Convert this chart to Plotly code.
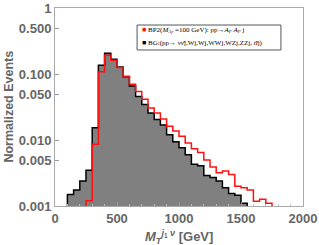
import plotly.graph_objects as go

# Bin lower edges (GeV), bin width 50
bg_edges = [100, 150, 200, 250, 300, 350, 400, 450, 500, 550, 600, 650, 700, 750,
            800, 850, 900, 950, 1000, 1050, 1100, 1150, 1200, 1250, 1300, 1350,
            1400, 1450, 1500]
bg_values = [0.0015, 0.00175, 0.0024, 0.0035, 0.0155, 0.138, 0.21, 0.17, 0.13,
             0.092, 0.067, 0.046, 0.035, 0.026, 0.0207, 0.0171, 0.0121, 0.0095,
             0.0077, 0.0060, 0.0043, 0.0041, 0.0029, 0.0027, 0.0024, 0.0019,
             0.00155, 0.00146, 0.0011]

bp_edges = [250, 300, 350, 400, 450, 500, 550, 600, 650, 700, 750, 800, 850,
            900, 950, 1000, 1050, 1100, 1150, 1200, 1250, 1300, 1350, 1400,
            1450, 1500, 1550, 1600, 1650, 1700]
bp_values = [0.0012, 0.0087, 0.11, 0.195, 0.165, 0.128, 0.094, 0.071, 0.055,
             0.042, 0.031, 0.026, 0.021, 0.0163, 0.0138, 0.0115, 0.0091, 0.0074,
             0.0065, 0.0050, 0.0039, 0.0032, 0.0034, 0.0030, 0.0020, 0.0019,
             0.00175, 0.00118, 0.00127, 0.0011]
bin_width = 50

y_tickvals = [0.001, 0.005, 0.01, 0.05, 0.1, 0.5, 1]
y_ticktext = ["0.001", "0.005", "0.010", "0.050", "0.100", "0.500", "1"]
x_tickvals = [0, 500, 1000, 1500, 2000]

bp_label = ("BP2(<i>M</i><sub><i>A<sub>F</sub></i></sub> =100 GeV): pp\u2192"
            "<i>A<sub>F</sub> A<sub>F</sub></i> j")
bg_label = "BG:(pp\u2192 <i>\u03bd\u03bd\u0304</i>j,Wj,Wj,WWj,WZj,ZZj, <i>tt\u0304</i>j)"
red = "#ff1010"

FLOOR = 1e-5


def step_outline(edges, values, w):
    xs = [edges[0]] + list(edges) + [edges[-1] + w, edges[-1] + w]
    ys = [FLOOR] + list(values) + [values[-1], FLOOR]
    return xs, ys


fig = go.Figure()

fig.add_trace(go.Bar(
    x=[e + bin_width / 2 for e in bg_edges], y=bg_values, width=bin_width,
    marker=dict(color="#808080", line=dict(width=0)), showlegend=False,
))

bx, by = step_outline(bg_edges, bg_values, bin_width)
fig.add_trace(go.Scatter(x=bx, y=by, mode="lines", line_shape="hv",
                         line=dict(color="black", width=1.5), showlegend=False))

rx, ry = step_outline(bp_edges, bp_values, bin_width)
fig.add_trace(go.Scatter(x=rx, y=ry, mode="lines", line_shape="hv",
                         line=dict(color=red, width=1.5), showlegend=False))

sans = "Liberation Sans, Arial, sans-serif"
tickfont = dict(family=sans, size=13, color="#666666", weight="bold")
serif = "Liberation Serif, DejaVu Serif, serif"

# legend box
fig.add_shape(type="rect", xref="paper", yref="paper",
              x0=0.331, x1=0.911, y0=0.788, y1=0.914,
              line=dict(color="#555555", width=1), fillcolor="white", layer="above")
fig.add_annotation(xref="paper", yref="paper", x=0.343, y=0.886,
                   xanchor="left", yanchor="middle", showarrow=False,
                   text=f"<span style='color:{red}'>\u25a0</span> " + bp_label,
                   font=dict(family=serif, size=7, color="black"))
fig.add_annotation(xref="paper", yref="paper", x=0.343, y=0.822,
                   xanchor="left", yanchor="middle", showarrow=False,
                   text="<span style='color:black'>\u25a0</span> " + bg_label,
                   font=dict(family=serif, size=7, color="black"))

# axis titles
fig.add_annotation(xref="paper", yref="paper", x=-0.187, y=0.5,
                   xanchor="center", yanchor="middle", textangle=-90, showarrow=False,
                   text="<b>Normalized Events</b>",
                   font=dict(family=sans, size=12.5, color="#666666"))
fig.add_annotation(xref="paper", yref="paper", x=0.5, y=-0.155,
                   xanchor="center", yanchor="middle", showarrow=False,
                   text="<b><i>M</i><sub><i>T</i></sub><sup><i>j</i><sub>1</sub> <i>\u03bd</i></sup> [GeV]</b>",
                   font=dict(family=sans, size=13, color="#666666"))

fig.update_layout(
    width=319, height=245,
    margin=dict(l=55, r=16, t=8, b=39, autoexpand=False),
    paper_bgcolor="white", plot_bgcolor="white",
    barmode="overlay", bargap=0,
    showlegend=False,
    xaxis=dict(
        range=[0, 2000], tickvals=x_tickvals, automargin=False,
        ticks="inside", ticklen=4, tickcolor="#999999",
        minor=dict(ticks="inside", ticklen=2, dtick=100, tickcolor="#bbbbbb"),
        showline=True, linecolor="#aaaaaa", linewidth=1, mirror=True,
        showgrid=False, zeroline=False, tickfont=tickfont,
    ),
    yaxis=dict(
        type="log", range=[-3, 0.01], tickvals=y_tickvals, ticktext=y_ticktext,
        automargin=False,
        ticks="inside", ticklen=4, tickcolor="#999999",
        showline=True, linecolor="#aaaaaa", linewidth=1, mirror=True,
        showgrid=False, zeroline=False, tickfont=tickfont,
    ),
)

fig.write_html("out.html", config={"displayModeBar": False},
               post_script="document.body.style.margin='0';document.body.style.overflow='hidden';")
